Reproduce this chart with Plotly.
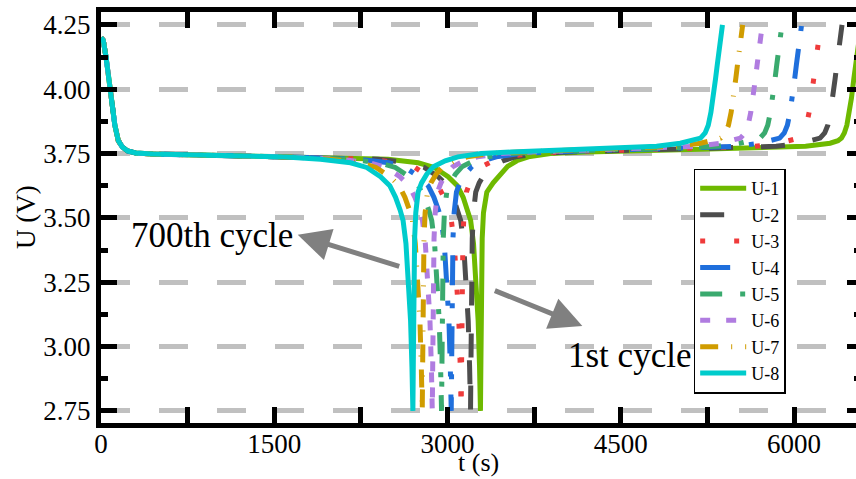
import plotly.graph_objects as go
import plotly.io as pio

pio.templates.default = "none"

# ---------------- data ----------------
SERIES = ["U-1", "U-2", "U-3", "U-4", "U-5", "U-6", "U-7", "U-8"]
COLORS = ["#6eb900", "#4d4d4d", "#ef3b3b", "#1f6fdc", "#3aaa6e", "#b07ce0", "#d09c00", "#00cccc"]
DASHES = ["solid", "24px,28px", "5px,29px", "30px,18px,5px,18px",
          "22px,18px,5px,18px", "10px,16px", "18px,13px,1px,13px", "solid"]

# voltage profile shared by all cycles (V)
V_PROFILE = [4.20, 4.19, 4.12, 4.03, 3.94, 3.86, 3.80, 3.775, 3.760, 3.752, 3.748, 3.746, 3.744, 3.741, 3.737,
             3.728, 3.714, 3.696, 3.66, 3.625, 3.58, 3.53, 3.49, 3.40, 3.25, 3.10, 2.92, 2.75,
             2.95, 3.20, 3.42, 3.52, 3.60, 3.636, 3.67, 3.70, 3.722, 3.737, 3.75, 3.756,
             3.766,
             3.778, 3.79, 3.80, 3.81, 3.83, 3.86, 3.91, 3.966, 4.04, 4.095, 4.18, 4.25]

HEAD_T = [0, 20, 45, 70, 95, 120, 150, 185, 230, 300, 450, 700, 1000, 1300, 1600]

T_U1 = HEAD_T + [2485, 2745, 2885, 3005, 3085, 3135, 3175, 3200, 3225, 3250, 3265, 3277, 3285,
                 3289, 3293, 3300, 3311, 3340, 3395, 3455, 3520, 3600, 3700, 3890, 4200,
                 5100,
                 6100, 6312, 6380, 6410, 6435, 6457, 6478, 6497, 6517, 6535, 6560, 6580]
T_U2 = HEAD_T + [2399, 2659, 2799, 2919, 2999, 3049, 3089, 3114, 3139, 3164, 3179, 3191, 3199,
                 3203, 3207, 3214, 3224, 3244, 3274, 3319, 3379, 3479, 3589, 3789, 4049,
                 4940,
                 5845, 6050, 6165, 6225, 6265, 6292, 6315, 6335, 6355, 6370, 6395, 6415]
T_U3 = HEAD_T + [2318, 2578, 2718, 2838, 2918, 2968, 3008, 3033, 3058, 3083, 3098, 3110, 3118,
                 3122, 3126, 3133, 3143, 3163, 3193, 3238, 3298, 3398, 3508, 3708, 3968,
                 4814,
                 5660, 5865, 5980, 6040, 6080, 6107, 6130, 6150, 6170, 6185, 6210, 6230]
T_U4 = HEAD_T + [2232, 2492, 2632, 2752, 2832, 2882, 2922, 2947, 2972, 2997, 3012, 3024, 3032,
                 3036, 3040, 3047, 3057, 3077, 3107, 3152, 3212, 3312, 3422, 3622, 3882,
                 4688,
                 5495, 5700, 5815, 5875, 5915, 5942, 5965, 5985, 6005, 6020, 6045, 6065]
T_U5 = HEAD_T + [2148, 2408, 2548, 2668, 2748, 2798, 2838, 2863, 2888, 2913, 2928, 2940, 2948,
                 2952, 2956, 2963, 2973, 2993, 3023, 3068, 3128, 3228, 3338, 3538, 3798,
                 4561,
                 5325, 5530, 5645, 5705, 5745, 5772, 5795, 5815, 5835, 5850, 5875, 5895]
T_U6 = HEAD_T + [2068, 2328, 2468, 2588, 2668, 2718, 2758, 2783, 2808, 2833, 2848, 2860, 2868,
                 2872, 2876, 2883, 2893, 2913, 2943, 2988, 3048, 3148, 3258, 3458, 3718,
                 4436,
                 5155, 5360, 5475, 5535, 5575, 5602, 5625, 5645, 5665, 5680, 5705, 5725]
T_U7 = HEAD_T + [1981, 2241, 2381, 2501, 2581, 2631, 2671, 2696, 2721, 2746, 2761, 2773, 2781,
                 2785, 2789, 2796, 2806, 2826, 2856, 2901, 2961, 3061, 3171, 3371, 3631,
                 4308,
                 4985, 5190, 5305, 5365, 5405, 5432, 5455, 5475, 5495, 5510, 5535, 5555]
T_U8 = HEAD_T + [1900, 2160, 2300, 2420, 2500, 2550, 2590, 2615, 2640, 2665, 2680, 2692, 2700,
                 2704, 2708, 2715, 2725, 2745, 2775, 2820, 2880, 2980, 3090, 3290, 3550,
                 4180,
                 4810, 5015, 5130, 5190, 5230, 5257, 5280, 5300, 5320, 5335, 5360, 5380]
TIMES = [T_U1, T_U2, T_U3, T_U4, T_U5, T_U6, T_U7, T_U8]

X_TICKS = [0, 1500, 3000, 4500, 6000]
Y_TICKS = [2.75, 3.00, 3.25, 3.50, 3.75, 4.00, 4.25]
X_RANGE = [0, 6536]
Y_RANGE = [2.703, 4.300]

FONT = "Liberation Serif"


def fnt(size, family=FONT):
    return dict(family=family, size=size, color="black")


fig = go.Figure()
for name, col, dash, t in zip(SERIES, COLORS, DASHES, TIMES):
    fig.add_trace(go.Scatter(x=t, y=V_PROFILE, mode="lines", name=name,
                             line=dict(color=col, width=5, dash=dash)))
# helper axis for the right-hand ticks
fig.add_trace(go.Scatter(x=[], y=[], yaxis="y2", showlegend=False, hoverinfo="skip"))

fig.update_layout(
    width=856, height=479,
    margin=dict(l=101, r=0, t=12, b=56),
    paper_bgcolor="white", plot_bgcolor="white",
    font=fnt(26),
    showlegend=True,
    legend=dict(x=0.785, y=0.619, xanchor="left", yanchor="top",
                bgcolor="white", bordercolor="black", borderwidth=1.5,
                font=fnt(18), tracegroupgap=0, itemwidth=46),
    xaxis=dict(range=X_RANGE, tickvals=X_TICKS, ticktext=[str(v) for v in X_TICKS],
               showgrid=False, zeroline=False, automargin=False,
               showline=True, linewidth=5, linecolor="black", mirror="allticks",
               ticks="inside", ticklen=16, tickwidth=5, tickcolor="black",
               ticklabelstandoff=-7,
               minor=dict(dtick=750, tick0=0, ticks="inside", ticklen=7, tickwidth=5,
                          tickcolor="black", showgrid=False),
               tickfont=fnt(27)),
    yaxis=dict(range=Y_RANGE, tickvals=Y_TICKS, ticktext=["%.2f" % v for v in Y_TICKS],
               showgrid=True, gridcolor="#c0c0c0", gridwidth=5, griddash="29px,29px",
               zeroline=False, automargin=False,
               showline=True, linewidth=5, linecolor="black", mirror=False,
               ticks="inside", ticklen=16, tickwidth=5, tickcolor="black",
               minor=dict(dtick=0.125, tick0=2.75, ticks="inside", ticklen=7, tickwidth=5,
                          tickcolor="black", showgrid=False),
               tickfont=fnt(27)),
    yaxis2=dict(range=Y_RANGE, overlaying="y", side="right", anchor="x", automargin=False,
                tickvals=Y_TICKS, showticklabels=False, showgrid=False, zeroline=False,
                showline=False, ticks="inside", ticklen=9, tickwidth=5, tickcolor="black",
                minor=dict(dtick=0.125, tick0=2.75, ticks="inside", ticklen=2, tickwidth=5,
                           tickcolor="black", showgrid=False)),
)

# axis titles placed as in the reference
fig.add_annotation(xref="paper", yref="paper", x=0.5, y=-0.096, text="t (s)", showarrow=False,
                   xanchor="center", yanchor="middle", font=fnt(26))
fig.add_annotation(xref="paper", yref="paper", x=-0.1, y=0.5, text="U (V)", showarrow=False,
                   textangle=-90, xanchor="center", yanchor="middle", font=fnt(27))
fig.add_annotation(x=960, y=3.43, text="700th cycle", showarrow=False,
                   xanchor="center", yanchor="middle", font=fnt(35))
fig.add_annotation(x=4577, y=2.965, text="1st cycle", showarrow=False,
                   xanchor="center", yanchor="middle", font=fnt(35))
fig.add_annotation(x=1703, y=3.434, text="", showarrow=True, ax=103, ay=32,
                   arrowhead=2, arrowsize=1.3, arrowwidth=5, arrowcolor="#808080", standoff=0)
fig.add_annotation(x=4167, y=3.080, text="", showarrow=True, ax=-89, ay=-36,
                   arrowhead=2, arrowsize=1.3, arrowwidth=5, arrowcolor="#808080", standoff=0)

fig.write_html("out.html")
